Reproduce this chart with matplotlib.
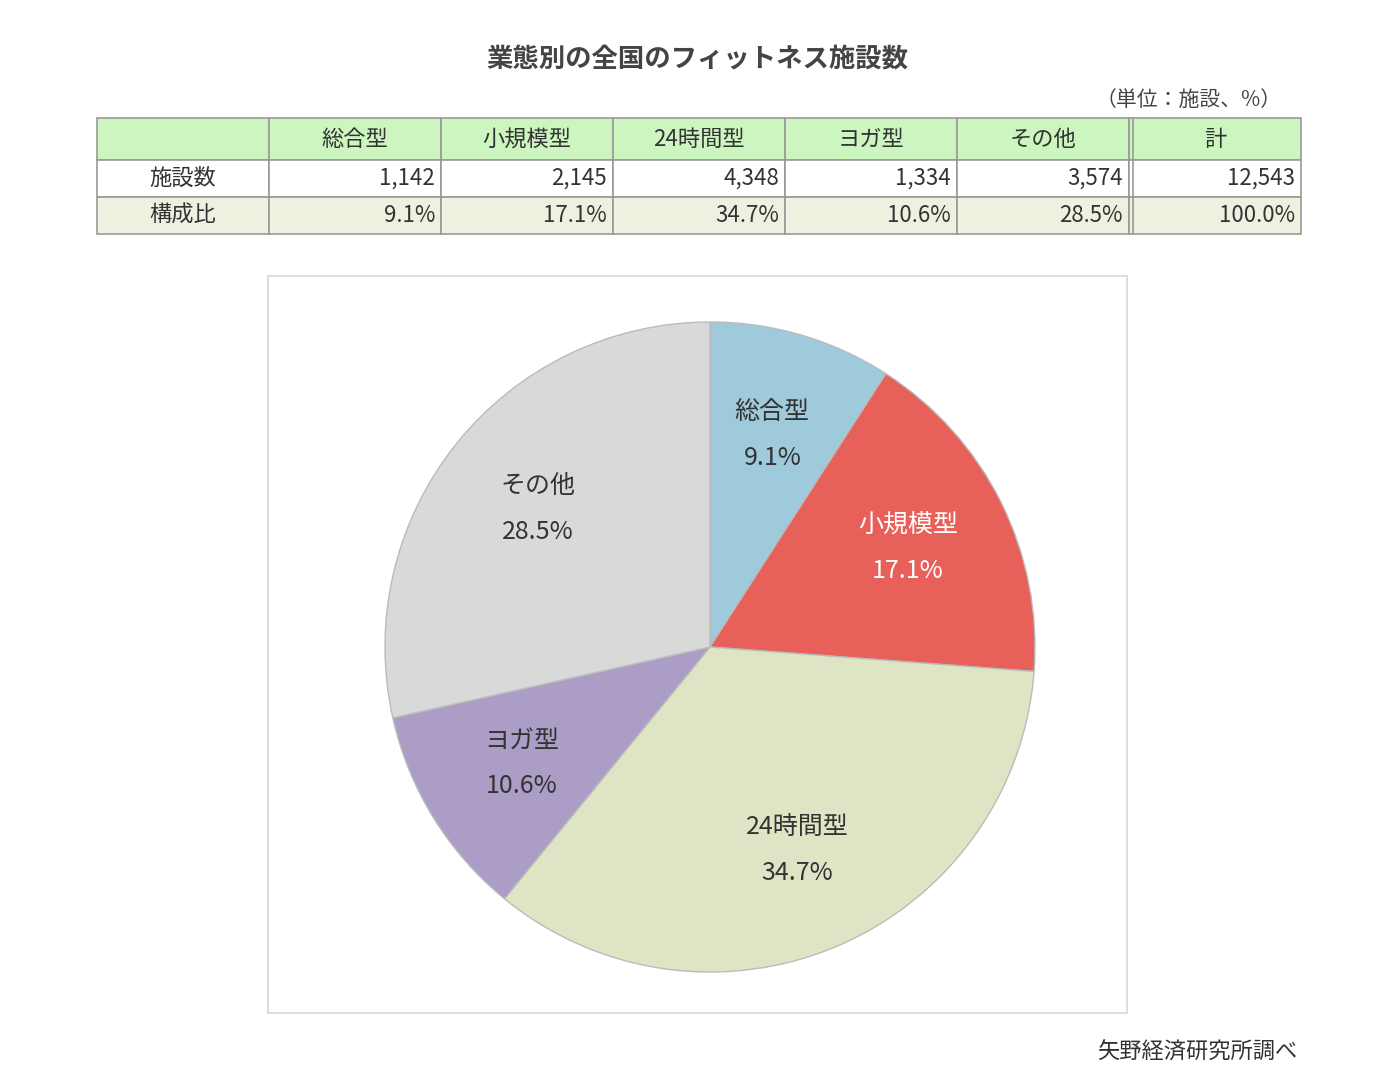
import matplotlib
matplotlib.use("Agg")
import matplotlib.pyplot as plt
from matplotlib.patches import Rectangle
import numpy as np

plt.rcParams["font.family"] = "Noto Sans CJK JP"

categories = ["総合型", "小規模型", "24時間型", "ヨガ型", "その他"]
counts = [1142, 2145, 4348, 1334, 3574]
shares = [9.1, 17.1, 34.7, 10.6, 28.5]
total_count = 12543
colors = ["#9fcadb", "#e8605a", "#dde5c4", "#ab9dc6", "#d9d9d9"]
label_colors = ["#333333", "white", "#333333", "#333333", "#333333"]

W, H = 1378, 1075
fig = plt.figure(figsize=(W/100, H/100), dpi=100)
bg = fig.add_axes([0, 0, 1, 1])
bg.set_xlim(0, W); bg.set_ylim(H, 0); bg.axis("off")

bg.text(697, 60, "業態別の全国のフィットネス施設数", ha="center", va="center",
        fontsize=19, fontweight="bold", color="#444444")
bg.text(1282, 100, "（単位：施設、%）", ha="right", va="center", fontsize=15, color="#444444")

# table
col_x = [97, 269, 441, 613, 785, 957, 1129, 1301]
row_y = [118, 160, 197, 234]
row_bg = ["#ccf5c0", "white", "#eef0e0"]
header = [""] + categories + ["計"]
row1 = ["施設数"] + [f"{c:,}" for c in counts] + [f"{total_count:,}"]
row2 = ["構成比"] + [f"{s:.1f}%" for s in shares] + ["100.0%"]
rows = [header, row1, row2]
for r in range(3):
    y0, y1 = row_y[r], row_y[r+1]
    for c in range(7):
        x0, x1 = col_x[c], col_x[c+1]
        fc = row_bg[r]
        if c == 0 and r == 0:
            fc = row_bg[0]
        bg.add_patch(Rectangle((x0, y0), x1-x0, y1-y0, facecolor=fc,
                               edgecolor="#999999", lw=1.2))
        txt = rows[r][c]
        ym = (y0+y1)/2
        if r == 0 or c == 0:
            bg.text((x0+x1)/2, ym, txt, ha="center", va="center", fontsize=16, color="#333333")
        else:
            bg.text(x1-6, ym, txt, ha="right", va="center", fontsize=16, color="#333333")
bg.plot([1133, 1133], [118, 234], color="#999999", lw=1.2)

# chart frame
bg.add_patch(Rectangle((268, 276), 859, 737, facecolor="white", edgecolor="#dddddd", lw=1.5))
bg.text(1297, 1052, "矢野経済研究所調べ", ha="right", va="center", fontsize=16, color="#333333")

cx, cy, R = 710, 647, 325
ax = fig.add_axes([(cx-R)/W, (H-cy-R)/H, 2*R/W, 2*R/H])
ax.pie(shares, colors=colors, startangle=90, counterclock=False,
       wedgeprops=dict(edgecolor="#bbbbbb", linewidth=1))
ax.set_aspect("equal"); ax.set_xlim(-1, 1); ax.set_ylim(-1, 1)
cum = 0
for cat, s, lc in zip(categories, shares, label_colors):
    mid = np.deg2rad(90 - (cum + s/2) * 3.6)
    cum += s
    x, y = 0.68*np.cos(mid), 0.68*np.sin(mid)
    ax.text(x, y + 0.07, cat, ha="center", va="center", fontsize=18, color=lc)
    ax.text(x, y - 0.07, f"{s:.1f}%", ha="center", va="center", fontsize=18, color=lc)

fig.savefig("out.png", dpi=100)
